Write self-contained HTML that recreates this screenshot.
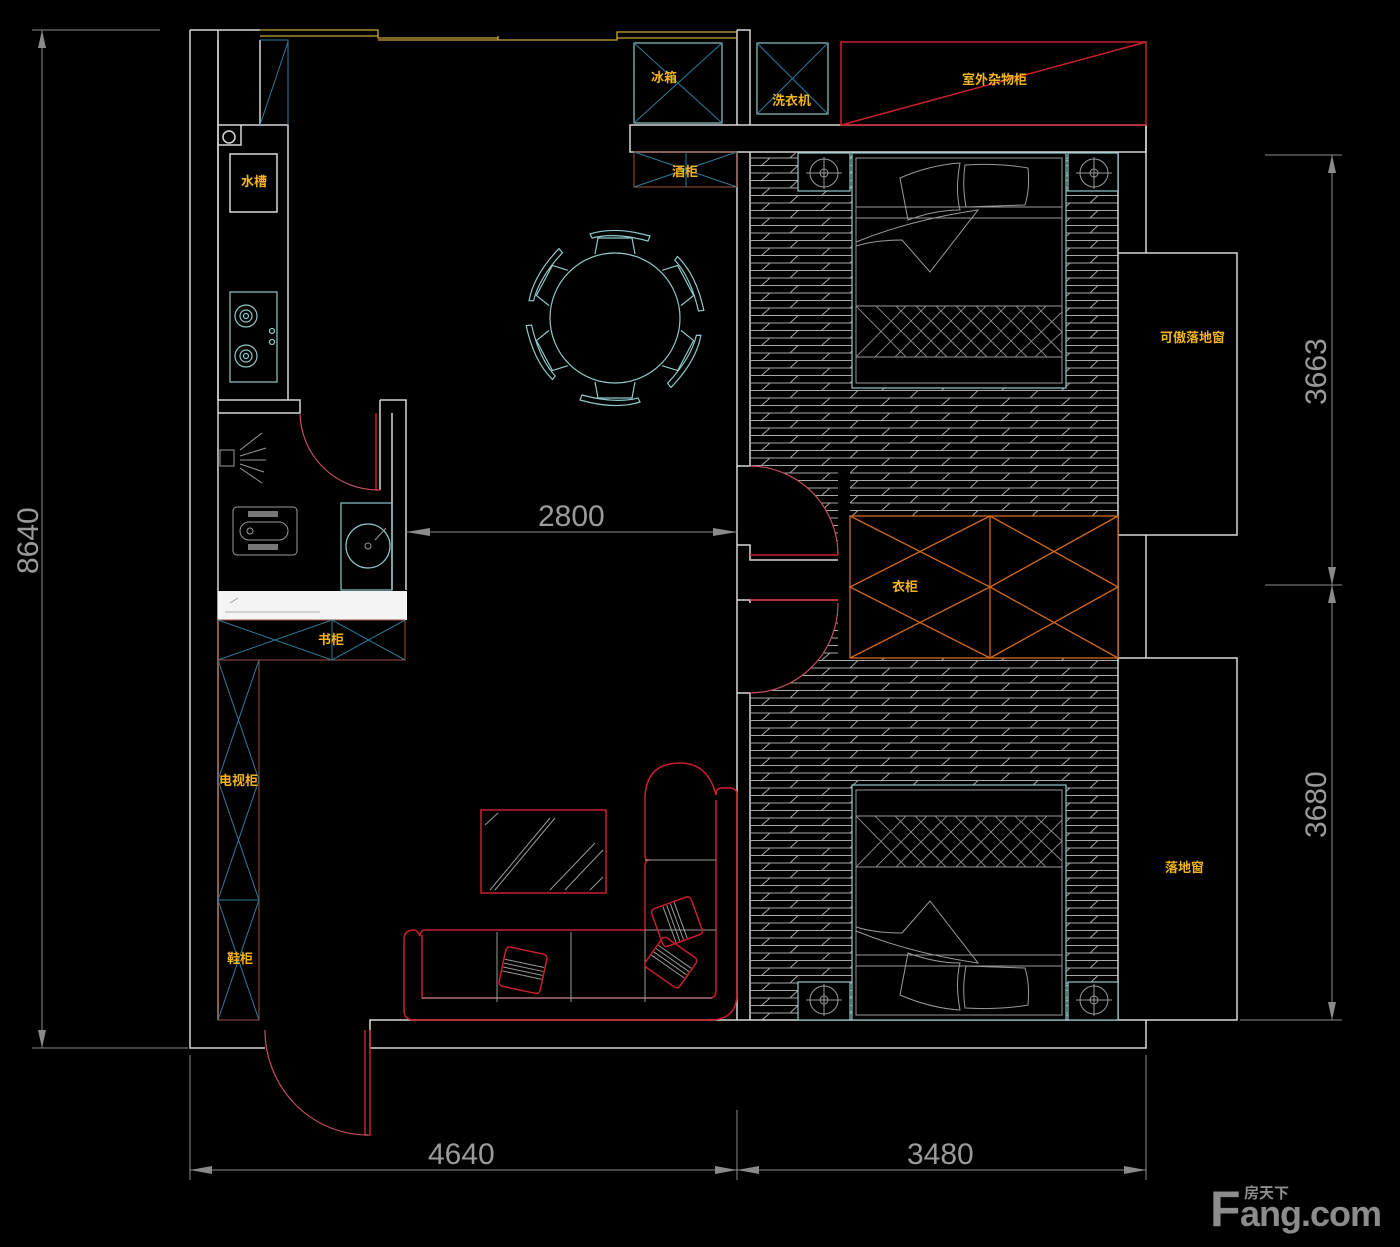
<!DOCTYPE html>
<html><head><meta charset="utf-8"><style>
html,body{margin:0;padding:0;background:#000;}
svg{display:block}
.w{stroke:#d8d8d8;stroke-width:1.5;fill:none}
.c{stroke:#8fc8c8;stroke-width:1.2;fill:none}
.b{stroke:#2f7b9a;stroke-width:1;fill:none}
.r{stroke:#c8202a;stroke-width:1.5;fill:none}
.p{stroke:#c05060;stroke-width:1.2;fill:none}
.o{stroke:#d06a20;stroke-width:1.3;fill:none}
.g{stroke:#9a9a9a;stroke-width:1;fill:none}
.t{fill:#f2b418;font-family:"Liberation Sans","Noto Sans CJK SC",sans-serif;font-size:13px;font-weight:bold}
.d{fill:#9a9a9a;font-family:"Liberation Sans",sans-serif;font-size:30px}
</style></head><body>
<svg width="1400" height="1247" viewBox="0 0 1400 1247" xmlns="http://www.w3.org/2000/svg">
<defs>
<pattern id="fl" width="60" height="15" patternUnits="userSpaceOnUse">
<line x1="0" y1="0.5" x2="60" y2="0.5" stroke="#a8a8a8" stroke-width="1"/>
<line x1="0" y1="8" x2="60" y2="8" stroke="#a8a8a8" stroke-width="1"/>
<line x1="10" y1="8" x2="18" y2="0.5" stroke="#a8a8a8" stroke-width="1"/>
<line x1="42" y1="15" x2="50" y2="8" stroke="#a8a8a8" stroke-width="1"/>
</pattern>
<g id="bed">
<rect fill="#000" x="852" y="153" width="214" height="235"/>
<rect fill="#000" x="798" y="153" width="52" height="38"/>
<rect fill="#000" x="1068" y="153" width="50" height="38"/>
<rect class="c" x="852" y="153" width="214" height="235"/>
<rect class="g" x="856" y="158" width="206" height="225"/>
<path class="g" d="M856 218 H1062 M856 207 H1062 M856 306 H1062 M856 357 H1062"/>
<path class="g" d="M900 178 Q930 165 960 163 Q955 190 960 210 Q935 210 908 220Z M965 165 Q1000 163 1028 168 Q1030 190 1025 205 Q995 206 966 207 Q962 185 965 165Z"/>
<path class="g" d="M856 242 Q910 220 978 210 L930 272 L902 240 Q875 240 856 246"/>
<path stroke="#888" stroke-width="0.9" fill="none" d="M856 306 L906 357 M876 306 L927 357 M896 306 L947 357 M916 306 L967 357 M936 306 L987 357 M956 306 L1007 357 M976 306 L1027 357 M996 306 L1047 357 M1016 306 L1062 353 M1036 306 L1062 332 M906 306 L856 357 M926 306 L875 357 M946 306 L895 357 M966 306 L915 357 M986 306 L935 357 M1006 306 L955 357 M1026 306 L975 357 M1046 306 L995 357 M1062 312 L1015 357 M1062 332 L1035 357"/>
<rect class="c" x="798" y="153" width="52" height="38"/><circle class="g" cx="824" cy="173" r="14"/><circle class="g" cx="824" cy="173" r="4"/><path class="g" d="M806 173 H842 M824 157 V189"/>
<rect class="c" x="1068" y="153" width="50" height="38"/><circle class="g" cx="1094" cy="173" r="14"/><circle class="g" cx="1094" cy="173" r="4"/><path class="g" d="M1076 173 H1112 M1094 157 V189"/>
</g>
</defs>
<rect width="1400" height="1247" fill="#000"/>

<!-- floors -->
<rect x="751" y="153" width="367" height="363" fill="url(#fl)"/>
<rect x="751" y="658" width="367" height="362" fill="url(#fl)"/>
<rect x="751" y="516" width="99" height="142" fill="url(#fl)"/>
<rect x="838" y="466" width="12" height="192" fill="#000"/>
<path d="M749 466 A89 89 0 0 1 838 555 L749 555Z M749 693 A89 89 0 0 0 838 603 L749 603Z M749 555 H838 V603 H749Z" fill="#000"/>

<!-- outer walls -->
<path class="w" d="M190 30 H260 M190 30 V1048 H265 M218 30 V1020 M737 30 H750 V125 M737 30 V125"/>
<path stroke="#c9a53a" stroke-width="1.3" fill="none" d="M260 30 H378 V38 H498 M260 36 H378 M378 40 H617 V32 H737 M617 38 H737 M498 36 V40"/>
<rect class="w" x="630" y="125" width="516" height="27"/>
<path class="w" d="M737 152 V466 H750 V152 M737 693 V1020 M750 693 V1020 M737 693 H750"/>
<path class="w" d="M737 466 V545 M737 545 H750 V560 H838 M737 545 V560 M737 560 V600 H838 M737 600 H750 V603 M737 600 V693"/>
<path class="w" d="M1146 125 V253 M1118 152 V1020 M1118 253 H1237 V535 H1118 M1146 535 V658 M1118 658 H1237 V1020 H1118 M1146 1020 V1048 H370 V1020 H1146"/>

<!-- entry door -->
<path class="r" d="M365 1030 V1135 H370 V1030"/>
<path class="p" d="M265 1030 A103 105 0 0 0 368 1135"/>

<!-- kitchen -->
<path class="w" d="M218 40 V400 H300 V413 H218 M218 125 H288 V400 M260 40 V125 M218 125 V145 H241 V125"/>
<path class="b" d="M260 40 H288 V125 M260 125 L288 42"/>
<circle class="w" cx="229" cy="137" r="6"/>
<rect class="w" x="230" y="154" width="47" height="58"/>
<text class="t" x="241" y="186">水槽</text>
<rect class="c" x="230" y="292" width="47" height="90"/>
<circle class="c" cx="246" cy="316" r="11"/><circle class="c" cx="246" cy="316" r="6"/><circle class="c" cx="246" cy="316" r="2.5"/>
<circle class="c" cx="246" cy="356" r="11"/><circle class="c" cx="246" cy="356" r="6"/><circle class="c" cx="246" cy="356" r="2.5"/>
<circle class="c" cx="272" cy="331" r="2.5"/><circle class="c" cx="272" cy="342" r="2.5"/>

<rect class="c" x="634" y="43" width="88" height="80"/>
<path class="b" d="M634 43 L722 123 M722 43 L634 123"/>
<text class="t" x="651" y="82">冰箱</text>
<rect class="c" x="757" y="43" width="71" height="71"/>
<path class="b" d="M757 43 L828 114 M828 43 L757 114"/>
<text class="t" x="772" y="105">洗衣机</text>
<rect class="r" x="841" y="42" width="305" height="83"/>
<path class="r" d="M841 125 L1146 42"/>
<text class="t" x="962" y="84">室外杂物柜</text>
<rect stroke="#a0503a" stroke-width="1" fill="none" x="634" y="152" width="103" height="35"/>
<path class="b" d="M634 152 L737 187 M737 152 L634 187 M686 152 V187"/>
<text class="t" x="672" y="176">酒柜</text>

<g class="c">
<circle cx="615" cy="318" r="65"/>
<g id="ch"><path d="M595 254 L598 238 H632 L635 254"/><path d="M590 234 Q615 226 650 236 L648 241 Q615 232 592 238Z"/></g>
<use href="#ch" transform="rotate(62 615 318)"/>
<use href="#ch" transform="rotate(118 615 318)"/>
<use href="#ch" transform="rotate(180 615 318)"/>
<use href="#ch" transform="rotate(242 615 318)"/>
<use href="#ch" transform="rotate(298 615 318)"/>
</g>

<!-- bathroom -->
<path class="w" d="M380 400 H406 V590 M380 400 V490 M392 413 V590"/>
<path class="r" d="M376 413 V490 H380"/>
<path class="p" d="M300 413 A78 78 0 0 0 378 490"/>
<path class="g" d="M240 450 L262 433 M240 456 L266 448 M240 460 L266 460 M240 464 L264 472 M240 468 L262 483"/>
<rect class="g" x="220" y="450" width="14" height="16"/>
<rect class="g" x="233" y="507" width="64" height="48" rx="4"/>
<rect class="g" x="240" y="522" width="48" height="18" rx="9"/>
<circle class="g" cx="250" cy="531" r="3"/>
<rect fill="#777" x="248" y="511" width="30" height="6"/><rect fill="#777" x="248" y="544" width="30" height="6"/>
<rect class="c" x="341" y="503" width="51" height="87"/>
<circle class="c" cx="368" cy="546" r="22"/><circle class="g" cx="368" cy="546" r="3"/>
<path class="g" d="M375 540 L386 528"/>
<rect fill="#f4f4f4" x="218" y="591" width="189" height="29"/>
<path stroke="#999" stroke-width="0.8" d="M225 612 H320 M230 603 L238 598"/>
<rect stroke="#a0503a" stroke-width="1" fill="none" x="218" y="620" width="187" height="40"/>
<path class="b" d="M218 620 L332 660 L405 620 M218 660 L332 620 L405 660 M332 620 V660"/>
<text class="t" x="318" y="644">书柜</text>
<rect stroke="#a0503a" stroke-width="1" fill="none" x="218" y="660" width="41" height="360"/>
<path class="b" d="M218 660 L259 780 L218 900 M259 660 L218 780 L259 900 M218 900 H259 M218 900 L259 1020 M259 900 L218 1020"/>
<text class="t" x="219" y="785">电视柜</text>
<text class="t" x="227" y="963">鞋柜</text>

<!-- sofa -->
<rect class="r" x="481" y="810" width="125" height="83"/>
<path class="g" d="M485 825 L498 813 M490 890 L550 818 M495 890 L555 818 M550 890 L595 843 M565 890 L603 850 M590 890 L603 877"/>
<path class="r" d="M414 930 Q404 930 404 940 V1010 Q404 1020 414 1020 H710 Q737 1020 737 993 V795 Q737 788 730 788 H722 Q716 788 716 795 M716 795 Q708 763 680 763 Q645 763 645 800 V855 Q645 860 648 860 Q645 862 645 866 V930 H425 Q420 930 420 936 Q417 930 414 930"/>
<path class="r" d="M422 935 V998 H710 Q716 998 716 990 V800"/>
<path class="g" d="M497 932 V1002 M571 932 V1002 M645 930 V1002 M645 860 H716 M645 930 H716 M422 998 H712"/>
<g transform="rotate(12 522 970)"><rect class="r" x="502" y="950" width="42" height="40" rx="4"/><path class="g" d="M503 963 H543 M503 967 H543 M503 971 H543 M503 975 H543"/></g>
<g transform="rotate(-20 676 922)"><rect class="r" x="656" y="902" width="42" height="40" rx="4"/><path class="g" d="M669 903 V941 M673 903 V941 M677 903 V941 M681 903 V941"/></g>
<g transform="rotate(35 670 962)"><rect class="r" x="650" y="944" width="42" height="36" rx="4"/><path class="g" d="M651 955 H691 M651 959 H691 M651 963 H691 M651 967 H691"/></g>

<!-- bedroom doors -->
<path class="p" d="M750 466 A89 89 0 0 1 838 555"/>
<path class="p" d="M838 603 A89 89 0 0 1 750 693"/>
<path class="r" d="M750 555 H838 M750 600 H838"/>

<!-- wardrobe -->
<rect fill="#000" x="850" y="516" width="268" height="142"/>
<rect class="o" x="850" y="516" width="268" height="142"/>
<path class="o" d="M990 516 V658 M850 516 L990 587 L850 658 M990 516 L850 587 L990 658 M990 516 L1118 587 L990 658 M1118 516 L990 587 L1118 658"/>
<text class="t" x="892" y="591">衣柜</text>

<use href="#bed"/>
<text class="t" x="1160" y="342">可傲落地窗</text>
<use href="#bed" transform="translate(0 1173) scale(1 -1)"/>
<text class="t" x="1165" y="872">落地窗</text>

<!-- dimensions -->
<g stroke="#8a8a8a" stroke-width="1" fill="none">
<path d="M42 30 V1048 M32 30 H160 M32 1048 H188"/>
<path d="M1332 155 V1020 M1265 155 H1342 M1265 585 H1342 M1240 1020 H1342"/>
<path d="M190 1170 H1146 M190 1055 V1180 M737 1110 V1180 M1146 1055 V1180"/>
<path d="M406 532 H737"/>
</g>
<g fill="#8a8a8a">
<path d="M42 30 L38 48 L46 48Z M42 1048 L38 1030 L46 1030Z"/>
<path d="M1332 155 L1328 173 L1336 173Z M1332 585 L1328 567 L1336 567Z M1332 585 L1328 603 L1336 603Z M1332 1020 L1328 1002 L1336 1002Z"/>
<path d="M190 1170 L212 1166 L212 1174Z M737 1170 L715 1166 L715 1174Z M737 1170 L759 1166 L759 1174Z M1146 1170 L1124 1166 L1124 1174Z"/>
<path d="M406 532 L430 528 L430 536Z M737 532 L713 528 L713 536Z"/>
</g>
<text class="d" x="538" y="526">2800</text>
<text class="d" x="428" y="1164">4640</text>
<text class="d" x="907" y="1164">3480</text>
<text class="d" transform="translate(38 574) rotate(-90)">8640</text>
<text class="d" transform="translate(1326 405) rotate(-90)">3663</text>
<text class="d" transform="translate(1326 838) rotate(-90)">3680</text>

<text x="1210" y="1226" fill="#8c8c8c" font-family="Liberation Sans,sans-serif" font-size="50" font-weight="bold" letter-spacing="-2">F</text>
<text x="1240" y="1226" fill="#8c8c8c" font-family="Liberation Sans,sans-serif" font-size="36" font-weight="bold" letter-spacing="-1">ang.com</text>
<text x="1244" y="1198" fill="#8c8c8c" font-family="Liberation Sans,'Noto Sans CJK SC',sans-serif" font-size="15" font-weight="bold">房天下</text>
</svg>
</body></html>
